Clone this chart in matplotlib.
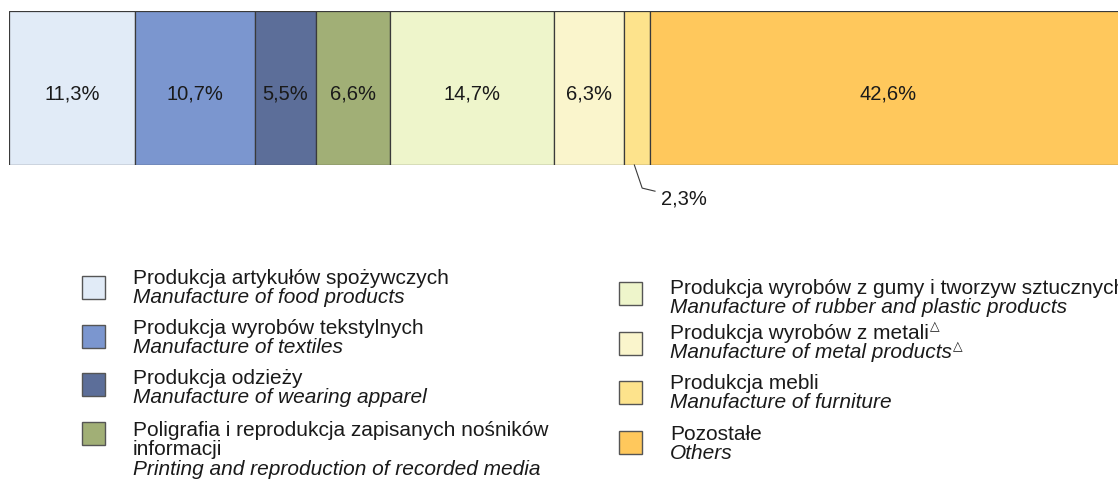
import matplotlib
matplotlib.use('Agg')
import matplotlib.pyplot as plt
from matplotlib.patches import Rectangle

plt.rcParams['font.family'] = ['Liberation Sans', 'DejaVu Sans']

# data
shares = [11.3, 10.7, 5.5, 6.6, 14.7, 6.3, 2.3, 42.6]
labels_pl = [
    'Produkcja artykułów spożywczych',
    'Produkcja wyrobów tekstylnych',
    'Produkcja odzieży',
    'Poligrafia i reprodukcja zapisanych nośników\ninformacji',
    'Produkcja wyrobów z gumy i tworzyw sztucznych',
    'Produkcja wyrobów z metali',
    'Produkcja mebli',
    'Pozostałe',
]
labels_en = [
    'Manufacture of food products',
    'Manufacture of textiles',
    'Manufacture of wearing apparel',
    'Printing and reproduction of recorded media',
    'Manufacture of rubber and plastic products',
    'Manufacture of metal products',
    'Manufacture of furniture',
    'Others',
]
marked = [False, False, False, False, False, True, False, False]
colors = ['#E1EBF7', '#7B96CF', '#5C6E99', '#A1AF76',
          '#EEF5CB', '#FAF5CC', '#FDE38C', '#FFC85C']

W, H = 1118, 481
fig = plt.figure(figsize=(W / 100, H / 100), dpi=100)


def fx(x):
    return x / W


def fy(y):
    return 1 - y / H


# stacked bar
ax = fig.add_axes([fx(9), fy(166), fx(W - 9), (166 - 12) / H])
left = 0
for val, col in zip(shares, colors):
    ax.barh(0, val, left=left, height=1, color=col, edgecolor='#3a3a3a',
            linewidth=0.9)
    txt = f'{val:.1f}%'.replace('.', ',')
    xm = left + val / 2
    if val >= 5:
        ax.text(xm, -0.071, txt, ha='center', va='baseline',
                fontsize=14.5, color='#1a1a1a')
    else:
        # small slice: label below with a leader line
        ax.plot([xm - 0.25, xm + 0.45, xm + 1.6], [-0.5, -0.65, -0.67],
                color='#3a3a3a', lw=0.8, clip_on=False)
        ax.text(xm + 2.15, -0.753, txt, ha='left', va='baseline',
                fontsize=14.5, color='#1a1a1a')
    left += val
ax.set_xlim(0, 99.31)
ax.set_ylim(-0.5, 0.5)
ax.axis('off')

# legend (two columns of four)
box_x = [82, 619]
text_x = [133, 670]
box_top = [[277, 325.5, 374, 423], [283, 332.5, 381.5, 431.5]]
base_y = [[284, 334, 384, 436], [294, 339, 389, 440]]
line_h = 19.5
fs = 15
for i, (pl, en, col) in enumerate(zip(labels_pl, labels_en, colors)):
    c, r = divmod(i, 4)
    fig.add_artist(Rectangle((fx(box_x[c]), fy(box_top[c][r] + 23)),
                             23 / W, 23 / H, transform=fig.transFigure,
                             facecolor=col, edgecolor='#555555',
                             linewidth=1.0))
    lines = pl.split('\n')
    texts = []
    for k, line in enumerate(lines):
        texts.append(fig.text(fx(text_x[c]), fy(base_y[c][r] + k * line_h),
                              line, ha='left', va='baseline', fontsize=fs,
                              color='#1a1a1a'))
    texts.append(fig.text(fx(text_x[c]),
                          fy(base_y[c][r] + len(lines) * line_h), en,
                          ha='left', va='baseline', fontsize=fs,
                          style='italic', color='#1a1a1a'))
    if marked[i]:
        # triangle marker after the category name
        for t in (texts[0], texts[-1]):
            plt.annotate('△', xy=(1, 1), xycoords=t, xytext=(0.5, 2),
                         textcoords='offset points', ha='left', va='top',
                         fontsize=9, style=t.get_style(),
                         color='#1a1a1a', annotation_clip=False)

fig.savefig('out.png', dpi=100)
